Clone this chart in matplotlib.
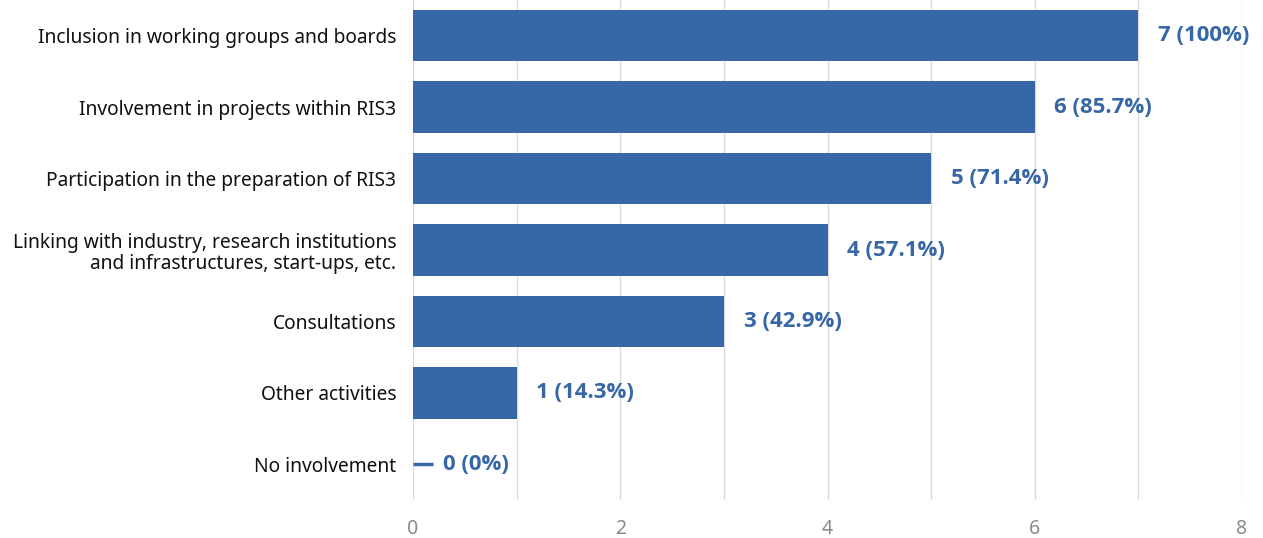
import matplotlib.pyplot as plt

plt.rcParams['font.family'] = ['Noto Sans', 'DejaVu Sans']

categories = [
    'Inclusion in working groups and boards',
    'Involvement in projects within RIS3',
    'Participation in the preparation of RIS3',
    'Linking with industry, research institutions\nand infrastructures, start-ups, etc.',
    'Consultations',
    'Other activities',
    'No involvement',
]
counts = [7, 6, 5, 4, 3, 1, 0]
percent_labels = ['100%', '85.7%', '71.4%', '57.1%', '42.9%', '14.3%', '0%']
x_ticks = [0, 2, 4, 6, 8]

bar_color = '#3767a7'

fig = plt.figure(figsize=(12.63, 5.38), dpi=100)
ax = fig.add_axes([413 / 1263, 1 - 500 / 538, (1242 - 413) / 1263, 500 / 538])

ypos = list(range(len(categories)))
ax.barh(ypos, counts, height=0.72, color=bar_color, zorder=3)

for y, c, p in zip(ypos, counts, percent_labels):
    if c == 0:
        ax.plot([0.0, 0.19], [y, y], color=bar_color, lw=2.5, solid_capstyle='butt', zorder=3)
        xt = 0.29
    else:
        xt = c + 0.19
    ax.text(xt, y, f'{c} ({p})', va='center', ha='left', fontsize=16,
            fontweight='bold', family=['Open Sans', 'DejaVu Sans'],
            color=bar_color, zorder=4)

ax.set_xlim(0, 8)
ax.set_ylim(len(categories) - 0.5, -0.5)
ax.set_xticks(x_ticks)
ax.set_xticks(range(0, 9), minor=True)
ax.set_yticks(ypos)
ax.set_yticklabels(categories, fontsize=13.8, color='#111111', linespacing=1.1)
ax.tick_params(axis='y', length=0, pad=12)
ax.tick_params(axis='x', which='both', length=0, pad=14, labelsize=14, labelcolor='#8a8a8a')
ax.grid(axis='x', which='both', color='#dcdcdc', lw=1, zorder=0)
for s in ax.spines.values():
    s.set_visible(False)

fig.savefig('out.png', dpi=100)
